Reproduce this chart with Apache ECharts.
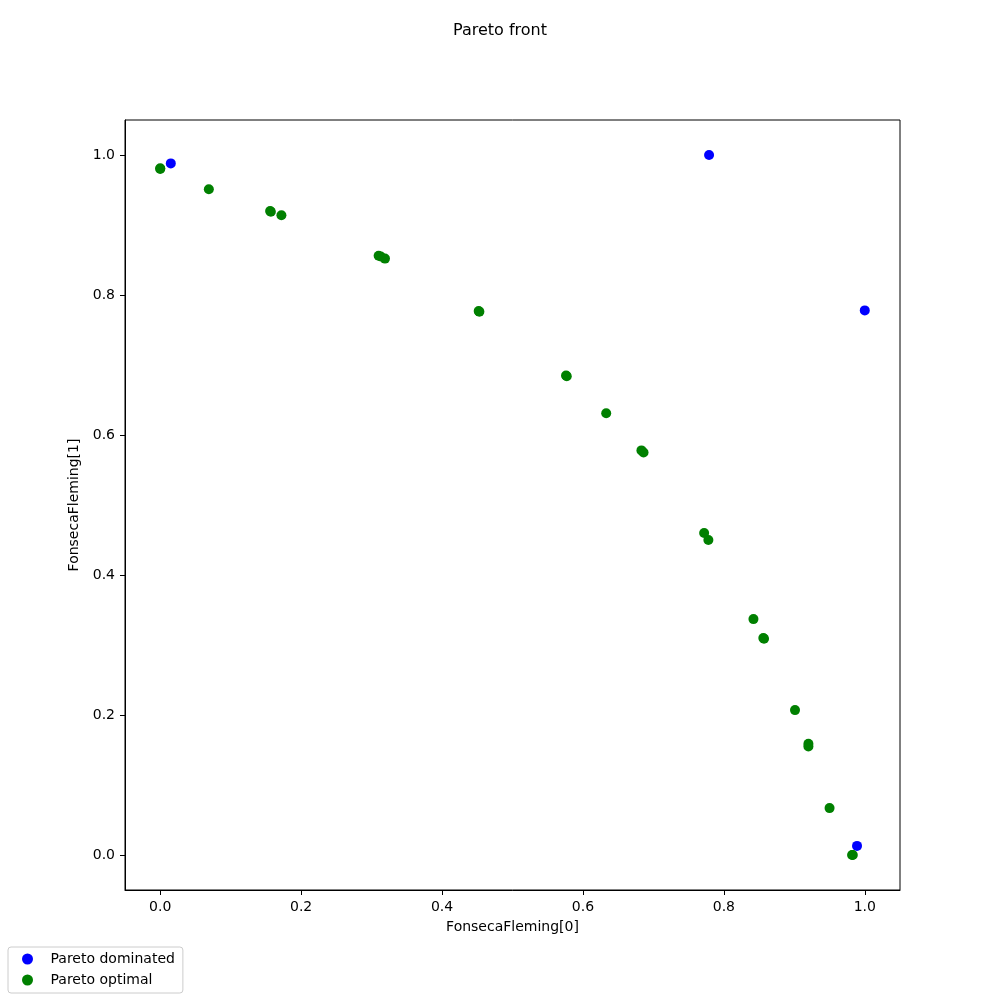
<!DOCTYPE html>
<html>
<head>
<meta charset="utf-8">
<script src="https://cdn.jsdelivr.net/npm/echarts@6/dist/echarts.min.js"></script>
<style>
  html, body {margin: 0; padding: 0; background: #fff;}
  #chart {width: 1000px; height: 1000px;}
</style>
</head>
<body>
<div id="chart"></div>
<script>
// Pareto dominated points [f0, f1]
const dominatedX = [0.015, 0.779, 1.0, 0.989];
const dominatedY = [0.988, 1.0, 0.778, 0.013];

// Pareto optimal points [f0, f1]
const optimalX = [0.0, 0.0, 0.069, 0.156, 0.157, 0.172, 0.310, 0.313, 0.319, 0.452, 0.453,
  0.576, 0.577, 0.633, 0.683, 0.686, 0.772, 0.778, 0.842, 0.856, 0.857,
  0.901, 0.920, 0.920, 0.950, 0.982, 0.983];
const optimalY = [0.981, 0.980, 0.951, 0.920, 0.919, 0.914, 0.856, 0.855, 0.852, 0.777, 0.776,
  0.685, 0.684, 0.631, 0.578, 0.575, 0.460, 0.450, 0.337, 0.310, 0.309,
  0.207, 0.159, 0.155, 0.067, 0.000, 0.000];

const ticks = [0, 0.2, 0.4, 0.6, 0.8, 1.0];

const zip = (xs, ys) => xs.map((v, i) => [v, ys[i]]);

const font = 'DejaVu Sans';
const chart = echarts.init(document.getElementById('chart'));

const axisCommon = (name, gap) => ({
  type: 'value',
  min: -0.05,
  max: 1.05,
  name: name,
  nameLocation: 'middle',
  nameGap: gap,
  nameTextStyle: {color: '#000', fontFamily: font, fontSize: 14},
  splitLine: {show: false},
  axisLine: {show: true, onZero: false, lineStyle: {color: '#000', width: 1}},
  axisTick: {show: true, customValues: ticks, length: 5, inside: false, lineStyle: {color: '#000', width: 1}},
  axisLabel: {
    customValues: ticks,
    color: '#000', fontFamily: font, fontSize: 14, margin: 10,
    formatter: v => v.toFixed(1)
  }
});

chart.setOption({
  animation: false,
  backgroundColor: '#fff',
  title: {
    text: 'Pareto front',
    left: 'center',
    top: 18,
    textStyle: {fontFamily: font, fontSize: 16, fontWeight: 'normal', color: '#000'}
  },
  grid: {
    left: 125, right: 100, top: 120, bottom: 110,
    show: true, borderColor: '#000', borderWidth: 1
  },
  xAxis: axisCommon('FonsecaFleming[0]', 30),
  yAxis: axisCommon('FonsecaFleming[1]', 43),
  legend: {
    orient: 'vertical',
    left: 8,
    top: 947,
    padding: [5, 8, 6, 14],
    itemGap: 7,
    itemWidth: 22,
    itemHeight: 11,
    icon: 'circle',
    borderColor: '#ccc',
    borderWidth: 1,
    borderRadius: 3,
    textStyle: {fontFamily: font, fontSize: 14, color: '#000', padding: [0, 0, 0, 7]},
    data: ['Pareto dominated', 'Pareto optimal']
  },
  series: [
    {
      name: 'Pareto dominated',
      type: 'scatter',
      symbol: 'circle',
      symbolSize: 10,
      itemStyle: {color: '#0000ff', opacity: 1},
      data: zip(dominatedX, dominatedY)
    },
    {
      name: 'Pareto optimal',
      type: 'scatter',
      symbol: 'circle',
      symbolSize: 10,
      itemStyle: {color: '#008000', opacity: 1},
      data: zip(optimalX, optimalY)
    }
  ]
});
</script>
</body>
</html>
